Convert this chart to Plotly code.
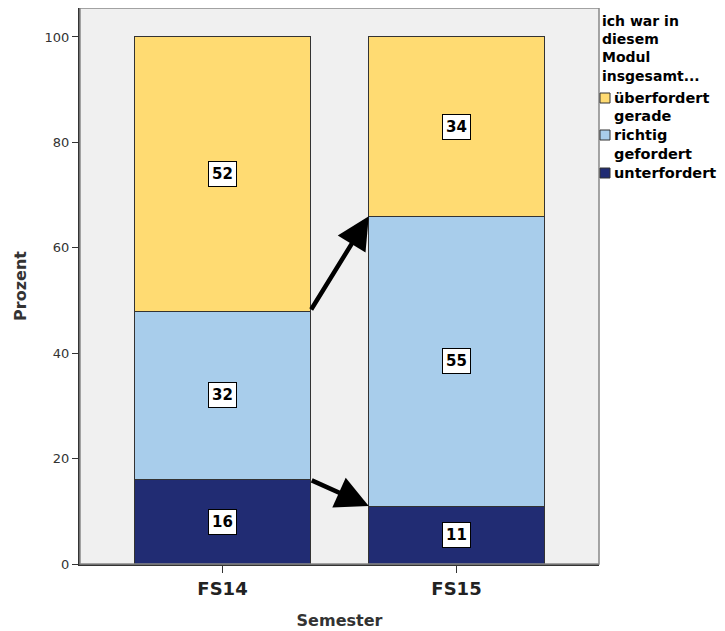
import plotly.graph_objects as go

categories = ["FS14", "FS15"]
series_names = ["unterfordert", "gerade<br>richtig<br>gefordert", "überfordert"]
unterfordert = [16, 11]
gerade_richtig = [32, 55]
ueberfordert = [52, 34]
y_ticks = [0, 20, 40, 60, 80, 100]
legend_title = "ich war in<br>diesem<br>Modul<br>insgesamt..."

colors = ["#212C73", "#A8CDEB", "#FFDB72"]
bar_width = 0.75
series = [unterfordert, gerade_richtig, ueberfordert]

FONT = "DejaVu Sans"
OFF = 8  # default body margin of the html page
W, H = 725 - OFF, 631 - OFF
ML, MR, MT, MB = 80 - OFF, 126, 8 - OFF, 67
PW, PH = W - ML - MR, H - MT - MB

fig = go.Figure()
x_idx = list(range(len(categories)))
for name, vals, col in zip(series_names, series, colors):
    fig.add_trace(go.Bar(
        x=x_idx, y=vals, name=name, width=bar_width,
        marker=dict(color=col, line=dict(color="#333333", width=1)),
        showlegend=False,
    ))

annotations = []
# value labels
for i in x_idx:
    base = 0
    for vals in series:
        v = vals[i]
        annotations.append(dict(
            x=i, y=base + v / 2, xref="x", yref="y", text="<b>%d</b>" % v,
            showarrow=False, font=dict(family=FONT, size=15, color="black"),
            bgcolor="white", bordercolor="black", borderwidth=1, borderpad=3,
        ))
        base += v

# arrows between bars
half = bar_width / 2
top_low = [unterfordert[i] + gerade_richtig[i] for i in x_idx]
for start_y, end_y in [(top_low[0], top_low[1]), (unterfordert[0], unterfordert[1])]:
    annotations.append(dict(
        x=1 - half, y=end_y, ax=0 + half, ay=start_y,
        xref="x", yref="y", axref="x", ayref="y", text="",
        showarrow=True, arrowhead=2, arrowsize=1.45, arrowwidth=4.5, arrowcolor="black",
        standoff=0,
    ))

# custom legend (paper coords from page pixel layout)
def px_x(px):
    return (px - OFF - ML) / PW

def px_y(py):
    return 1 - (py - OFF - MT) / PH

shapes = [dict(type="rect", xref="paper", yref="paper", x0=0, y0=0, x1=1, y1=1,
               line=dict(color="#888888", width=1.5), layer="above")]

annotations.append(dict(
    x=px_x(600), y=px_y(11), xref="paper", yref="paper", xanchor="left", yanchor="top",
    text="<b>%s</b>" % legend_title, showarrow=False, align="left",
    font=dict(family=FONT, size=14, color="black"),
))
legend_rows = [(2, 98), (1, 135), (0, 173)]  # (series index, centre y px)
for si, cy in legend_rows:
    shapes.append(dict(type="rect", xref="paper", yref="paper",
                       x0=px_x(600), x1=px_x(610), y0=px_y(cy + 5), y1=px_y(cy - 5),
                       fillcolor=colors[si], line=dict(color="#333333", width=1)))
    annotations.append(dict(
        x=px_x(612), y=px_y(cy), xref="paper", yref="paper", xanchor="left", yanchor="middle",
        text="<b>%s</b>" % series_names[si], showarrow=False, align="left",
        font=dict(family=FONT, size=14.5, color="black"),
    ))

fig.update_layout(
    barmode="stack",
    width=W, height=H,
    margin=dict(l=ML, r=MR, t=MT, b=MB, autoexpand=False),
    paper_bgcolor="white",
    plot_bgcolor="#F0F0F0",
    font=dict(family=FONT, color="#222222"),
    annotations=annotations,
    showlegend=False,
    xaxis=dict(
        tickmode="array", tickvals=x_idx, ticktext=["<b>%s</b>" % c for c in categories],
        tickfont=dict(family=FONT, size=18, color="#222222"),
        range=[-0.609, 1.609], automargin=False,
        showgrid=False, zeroline=False,
        showline=True, linecolor="#333333", linewidth=2, mirror=False,
        ticks="outside", ticklen=7, tickcolor="#333333",
        title=dict(text="<b>Semester</b>", font=dict(family=FONT, size=16, color="#333333"), standoff=17),
    ),
    yaxis=dict(
        tickmode="array", tickvals=y_ticks,
        tickfont=dict(family=FONT, size=13, color="#333333"),
        range=[0, 105.5], automargin=False,
        showgrid=False, zeroline=False,
        showline=True, linecolor="#333333", linewidth=2, mirror=False,
        ticks="outside", ticklen=6, tickcolor="#333333",
        title=dict(text="<b>Prozent</b>", font=dict(family=FONT, size=16, color="#333333"), standoff=14),
    ),
    shapes=shapes,
)

fig.write_html("out.html")
